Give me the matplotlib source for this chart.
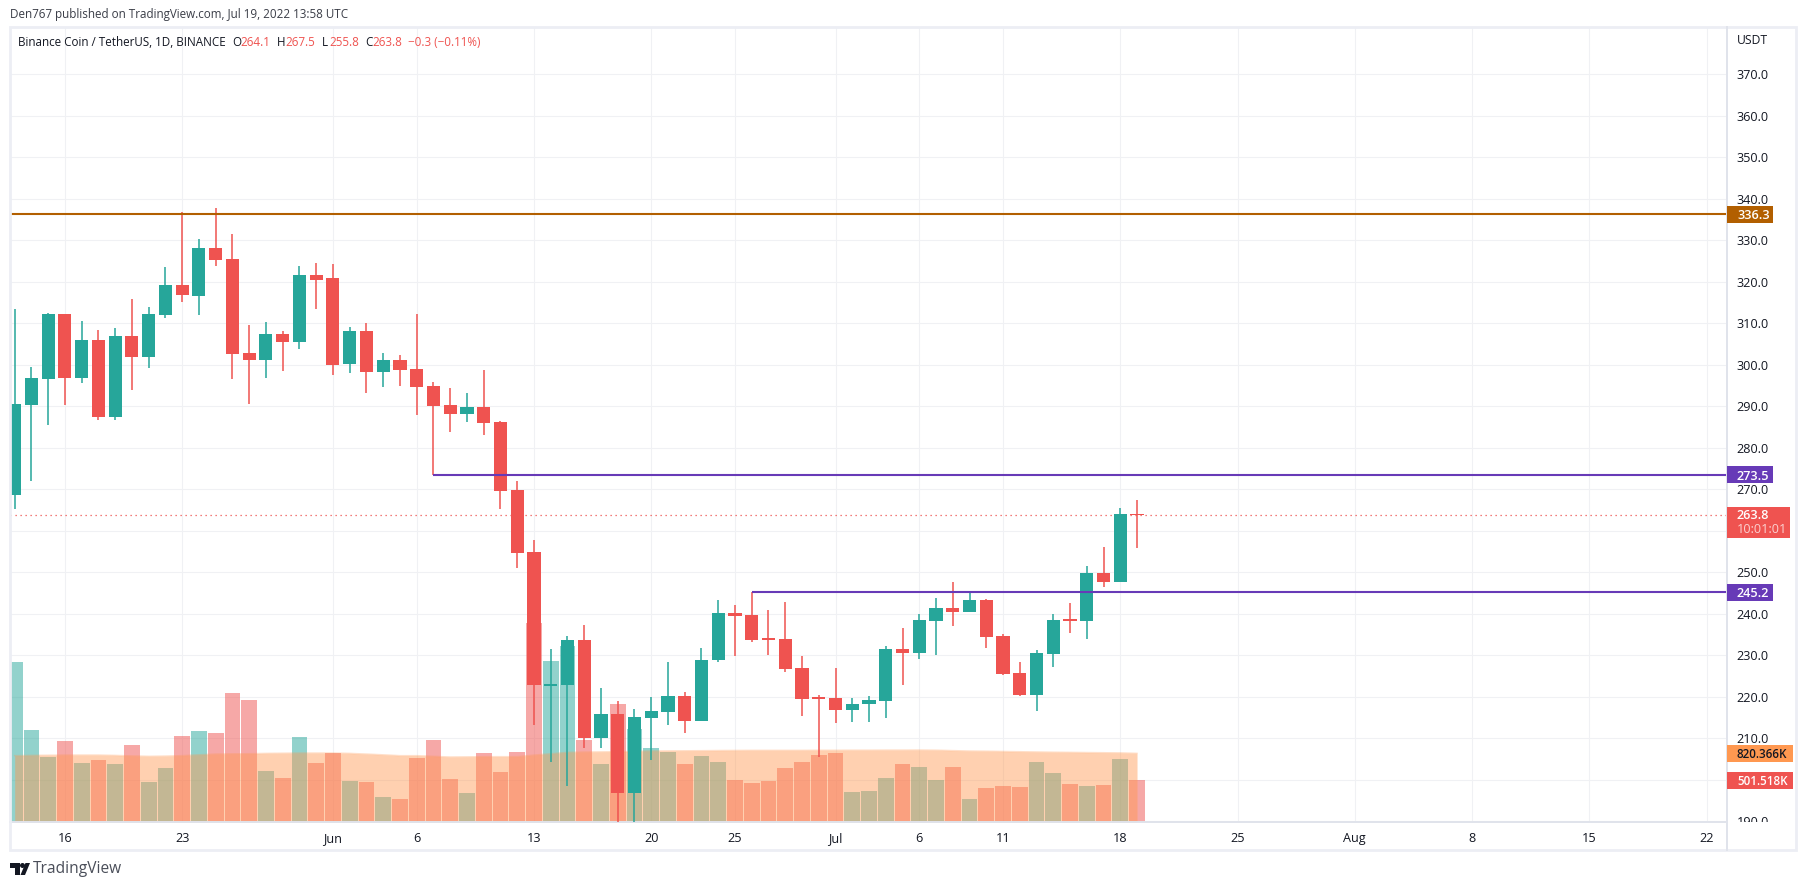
import pandas as pd
import matplotlib
matplotlib.use('Agg')
import matplotlib.pyplot as plt
import matplotlib.dates as mdates
from matplotlib.patches import Rectangle, Polygon, Circle
from matplotlib.transforms import blended_transform_factory, Bbox

plt.rcParams['font.family'] = ['Open Sans', 'DejaVu Sans']

# BNB/USDT daily candles from 2022-05-13
start_day = '2022-05-13'
opens = [268.6, 290.3, 296.6, 312.2, 296.8, 306.0, 287.4, 306.9, 301.9, 312.0,
         319.2, 316.6, 328.1, 325.5, 302.8, 301.2, 307.4, 305.5, 321.6, 320.9,
         300.2, 308.1, 298.3, 301.2, 299.0, 294.9, 290.3, 288.1, 289.8, 286.2,
         269.8, 254.9, 222.6, 222.8, 233.7, 210.1, 215.9, 196.8, 214.9, 216.3,
         220.2, 214.2, 228.9, 240.2, 239.7, 233.9, 233.9, 226.9, 219.7, 219.7,
         216.8, 218.3, 219.0, 231.5, 230.6, 238.3, 241.4, 240.4, 243.3, 234.6,
         225.7, 220.4, 230.3, 238.5, 238.3, 249.8, 247.7, 264.1]
highs = [313.5, 299.5, 312.4, 312.2, 310.6, 308.4, 308.9, 315.9, 313.9, 323.6,
         336.8, 330.3, 337.8, 331.5, 309.6, 310.3, 308.1, 323.8, 324.5, 324.3,
         309.1, 310.1, 302.9, 302.4, 312.2, 295.9, 294.4, 293.2, 298.7, 286.4,
         272.0, 257.8, 231.5, 234.6, 237.3, 222.1, 219.0, 217.0, 220.0, 228.4,
         221.2, 231.8, 243.3, 242.1, 245.2, 240.9, 242.8, 229.8, 220.4, 226.9,
         219.7, 220.2, 232.2, 236.6, 239.9, 243.8, 247.7, 245.2, 243.6, 235.1,
         228.4, 231.3, 240.0, 242.6, 251.5, 256.1, 265.5, 267.5]
lows = [265.2, 272.0, 285.5, 290.3, 295.6, 286.7, 286.7, 293.9, 299.2, 311.3,
        315.1, 312.0, 323.8, 296.6, 290.5, 296.8, 298.5, 303.8, 313.4, 297.5,
        298.0, 293.2, 294.6, 294.9, 287.9, 273.5, 283.8, 286.2, 283.1, 265.2,
        251.0, 213.2, 204.4, 198.5, 207.7, 207.7, 189.8, 189.8, 204.8, 213.2,
        211.3, 214.2, 228.4, 229.8, 233.2, 230.1, 226.0, 215.4, 205.6, 213.7,
        213.9, 213.9, 214.9, 222.8, 229.1, 230.1, 237.1, 240.4, 231.8, 225.2,
        220.2, 216.6, 227.2, 235.4, 233.9, 246.5, 247.7, 255.8]
closes = [290.5, 296.8, 312.2, 296.8, 306.0, 287.4, 306.9, 301.9, 312.2, 319.2,
          316.8, 328.1, 325.3, 302.6, 301.2, 307.4, 305.5, 321.6, 320.4, 299.9,
          308.1, 298.3, 301.2, 298.8, 294.6, 290.1, 288.1, 289.8, 286.0, 269.6,
          254.7, 222.8, 223.1, 233.7, 210.1, 215.8, 196.8, 215.1, 216.6, 220.2,
          214.2, 228.9, 240.2, 239.5, 233.7, 233.7, 226.7, 219.5, 219.5, 216.8,
          218.3, 219.2, 231.5, 230.6, 238.5, 241.4, 240.4, 243.3, 234.4, 225.5,
          220.4, 230.5, 238.5, 238.3, 249.8, 247.7, 264.0, 263.8]
# volume in thousands
volumes = [1906, 1098, 777, 967, 705, 741, 694, 919, 480, 646,
           1026, 1086, 1062, 1538, 1454, 610, 527, 1015, 705, 824,
           491, 480, 301, 277, 765, 979, 515, 349, 824, 598,
           836, 2370, 1918, 2096, 979, 694, 1407, 1110, 884, 836,
           694, 789, 717, 503, 468, 491, 646, 717, 800, 824,
           361, 373, 527, 694, 658, 503, 658, 277, 408, 432,
           420, 717, 586, 456, 432, 444, 753, 501.5]
volume_ma = [793, 796, 798, 800, 800, 800, 796, 790, 785, 788,
             793, 803, 812, 815, 816, 820, 822, 824, 824, 824,
             820, 812, 803, 793, 793, 785, 777, 779, 781, 781,
             781, 800, 815, 832, 836, 838, 840, 844, 848, 850,
             851, 852, 854, 855, 856, 856, 856, 856, 857, 857,
             858, 858, 859, 859, 860, 858, 853, 848, 846, 843,
             840, 837, 834, 832, 830, 828, 826, 820.4]

tick_dates = ['2022-05-16', '2022-05-23', '2022-06-01', '2022-06-06', '2022-06-13',
              '2022-06-20', '2022-06-25', '2022-07-01', '2022-07-06', '2022-07-11',
              '2022-07-18', '2022-07-25', '2022-08-01', '2022-08-08', '2022-08-15',
              '2022-08-22']
tick_labels = ['16', '23', 'Jun', '6', '13', '20', '25', 'Jul', '6', '11', '18', '25',
               'Aug', '8', '15', '22']
price_ticks = [190, 200, 210, 220, 230, 240, 250, 260, 270, 280, 290, 300, 310, 320,
               330, 340, 350, 360, 370]
hidden_ticks = [200, 260]  # sit under the price tags
level_top = 336.3
level_mid = 273.5
level_low = 245.2
last_price = 263.8
last_volume = 501.518
last_ma = 820.366

GREEN = '#26a69a'
RED = '#ef5350'
GRID = '#f0f1f4'
BORDER = '#e0e3eb'
TEXT = '#131722'
PURPLE = '#673ab7'
BROWN = '#b25f00'
ORANGE = '#ff9850'

W, H = 1807, 885
fig = plt.figure(figsize=(W / 100, H / 100), dpi=100, facecolor='white')
ax_rect = [10 / W, 1 - 822.3 / H, 1717 / W, 795.3 / H]
ax_grid = fig.add_axes(ax_rect)
ax_vol = fig.add_axes(ax_rect, sharex=ax_grid)
ax = fig.add_axes(ax_rect, sharex=ax_grid)
ax_vol.patch.set_visible(False)
ax.patch.set_visible(False)
over = fig.add_axes([0, 0, 1, 1], zorder=5)
over.set_xlim(0, W)
over.set_ylim(H, 0)
over.axis('off')

dates = pd.date_range(start_day, periods=len(opens))
x = mdates.date2num(dates)
ticks = mdates.date2num(pd.to_datetime(tick_dates))
colors = [GREEN if c >= o else RED for o, c in zip(opens, closes)]
bottoms = [min(o, c) for o, c in zip(opens, closes)]
heights = [max(abs(c - o), 0.35) for o, c in zip(opens, closes)]

# grid goes in its own axes so it stays under the volume bars
ax_grid.set_ylim(189.76, 381.4)
ax_grid.set_yticks(price_ticks)
ax_grid.set_xticks(ticks)
ax_grid.grid(True, color=GRID, lw=0.8)
ax_grid.tick_params(length=0, labelleft=False, labelbottom=False)
for s in ax_grid.spines.values():
    s.set_visible(False)

# volume pane
ax_vol.bar(x, volumes, width=0.94, color=colors, alpha=0.5, linewidth=0, zorder=2)
ax_vol.fill_between(x, volume_ma, color=ORANGE, alpha=0.45, linewidth=0, zorder=3)
ax_vol.plot(x, volume_ma, color=ORANGE, alpha=0.3, lw=1, zorder=3)
ax_vol.set_ylim(0, 795.3 * 11.89)
ax_vol.set_yticks([])
ax_vol.tick_params(length=0, labelbottom=False)
for s in ax_vol.spines.values():
    s.set_visible(False)

# price pane
ax.set_xlim(x[0] - 0.28, x[0] + 102.22)
ax.set_ylim(189.76, 381.4)
ax.set_yticks(price_ticks)
ax.yaxis.tick_right()
ax.set_yticklabels(['' if t in hidden_ticks else '%.1f' % t for t in price_ticks])
ax.set_xticks(ticks)
ax.set_xticklabels(tick_labels)
ax.tick_params(axis='y', length=0, pad=7, labelsize=9.1, labelcolor=TEXT)
ax.tick_params(axis='x', length=0, pad=7, labelsize=9.1, labelcolor=TEXT)
ax.get_yticklabels()[0].set_clip_on(True)
ax.get_yticklabels()[0].set_clip_box(Bbox([[0, H - 822.3], [W, H]]))
for s in ['top', 'left']:
    ax.spines[s].set_visible(False)
for s in ['bottom', 'right']:
    ax.spines[s].set_color(BORDER)
    ax.spines[s].set_linewidth(1.4)

ax.axhline(last_price, color=RED, lw=0.9, ls=(0, (1, 3)), zorder=1)
ax.vlines(x, lows, highs, colors=colors, lw=1.1, zorder=3)
ax.bar(x, heights, bottom=bottoms, width=0.78, color=colors, linewidth=0, zorder=4)
ax.axhline(level_top, color=BROWN, lw=1.5, zorder=6)
ax.hlines(level_mid, x[25], ax.get_xlim()[1], color=PURPLE, lw=1.5, zorder=6)
ax.hlines(level_low, x[44], ax.get_xlim()[1], color=PURPLE, lw=1.5, zorder=6)

# outer frame
over.add_patch(Rectangle((10, 26.5), 1786.5, 823.5, fill=False, ec='#eceef4', lw=2))
over.plot([1727, 1727], [27, 850], color=BORDER, lw=1.4)

# header texts
over.text(10, 14.5, 'Den767 published on TradingView.com, Jul 19, 2022 13:58 UTC',
          fontsize=8.35, color='#3a3d47', va='center')
over.text(18, 42, 'Binance Coin / TetherUS, 1D, BINANCE', fontsize=8.35, color=TEXT, va='center')
for px, txt, col in [(232, 'O', TEXT), (240, '264.1', RED), (277, 'H', TEXT), (285.5, '267.5', RED),
                     (322, 'L', TEXT), (329, '255.8', RED), (365, 'C', TEXT), (372, '263.8', RED),
                     (408.5, '\u22120.3 (\u22120.11%)', RED)]:
    over.text(px, 42, txt, fontsize=8.4, color=col, va='center')
over.text(1737, 40, 'USDT', fontsize=8.7, color=TEXT, va='center')

# price and volume tags on the right scale
price_tr = blended_transform_factory(over.transData, ax.transData)
vol_tr = blended_transform_factory(over.transData, ax_vol.transData)


def tag(value, label, color, right, tr, per_px, txt_color='white', size=9.1):
    over.add_patch(Rectangle((1727, value - 8.5 * per_px), right - 1727, 17 * per_px,
                             color=color, transform=tr, lw=0, zorder=7))
    over.text(1737, value, label, color=txt_color, fontsize=size, fontweight='semibold',
              va='center_baseline', transform=tr, zorder=8)


tag(level_top, '336.3', BROWN, 1772.7, price_tr, 1 / 4.15)
tag(level_mid, '273.5', PURPLE, 1772.7, price_tr, 1 / 4.15)
tag(level_low, '245.2', PURPLE, 1772.7, price_tr, 1 / 4.15)
over.add_patch(Rectangle((1727, 507), 63, 30.7, color=RED, lw=0, zorder=7))
over.text(1737, 515.5, '%.1f' % last_price, color='white', fontsize=9.1, fontweight='semibold',
          va='center', zorder=8)
over.text(1737, 529.5, '10:01:01', color='#fbd0cf', fontsize=9.1, va='center', zorder=8)
tag(last_ma, '820.366K', ORANGE, 1792.7, vol_tr, 11.89, txt_color=TEXT, size=8.4)
tag(last_volume, '501.518K', RED, 1792.7, vol_tr, 11.89, size=8.4)

# TradingView logo
over.add_patch(Polygon([(10, 863), (20, 863), (20, 875), (15, 875), (15, 868), (10, 868)],
                       color=TEXT, lw=0))
over.add_patch(Circle((22.5, 865.5), 2.5, color=TEXT, lw=0))
over.add_patch(Polygon([(25, 875), (20.5, 875), (25.5, 863), (30, 863)], color=TEXT, lw=0))
over.text(33, 869, 'TradingView', fontsize=11.2, color='#4a4e59', va='center')

fig.savefig('out.png', dpi=100, facecolor='white')
